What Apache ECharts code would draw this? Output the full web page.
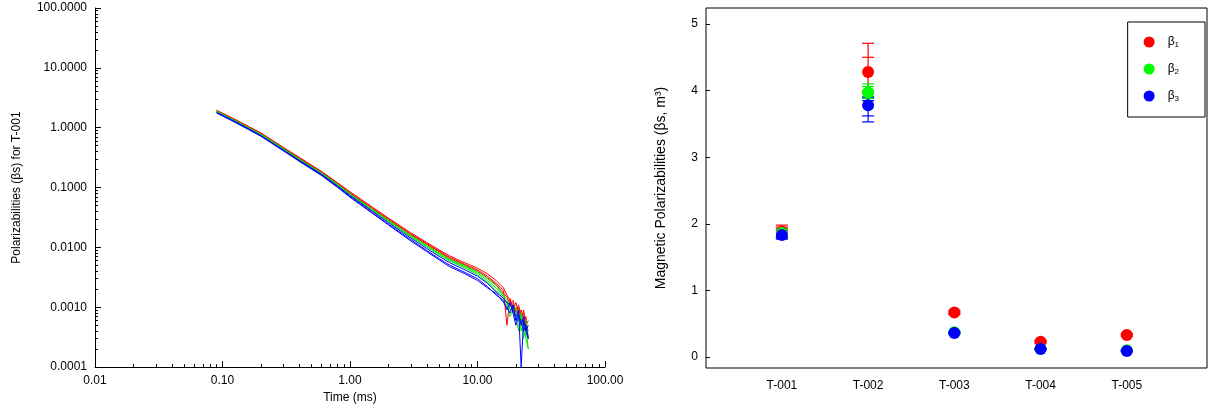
<!DOCTYPE html>
<html><head><meta charset="utf-8">
<script src="https://cdn.jsdelivr.net/npm/echarts@6/dist/echarts.min.js"></script>
<style>html,body{margin:0;padding:0;background:#fff}#c{width:1213px;height:409px}</style>
</head><body><div id="c"></div>
<script>
var times=[0.09,0.12,0.16,0.2,0.3,0.4,0.6,0.8,1,1.5,2,3,4,5,6,8,10,12,14,16,17,18,19,20,21,22,23,24,25];
var red1=[1.95,1.45,1.05,0.82,0.47,0.32,0.185,0.12,0.085,0.047,0.031,0.0175,0.0121,0.0091,0.0073,0.0055,0.0045,0.0036,0.0028,0.0021,0.0016,0.0013,0.0011,0.0009,0.0011,0.0007,0.0008,0.0005,0.0004];
var red2=[1.92,1.42,1.03,0.8,0.46,0.31,0.18,0.117,0.082,0.045,0.03,0.0168,0.0116,0.0087,0.0069,0.0052,0.0042,0.0033,0.0025,0.0019,0.0005,0.0014,0.0009,0.0012,0.0008,0.0009,0.0006,0.0007,0.0003];
var red3=[1.9,1.4,1.02,0.79,0.455,0.305,0.178,0.115,0.08,0.044,0.029,0.0162,0.0112,0.0084,0.0066,0.005,0.004,0.0031,0.0024,0.0017,0.0015,0.0011,0.0013,0.0008,0.001,0.0006,0.0009,0.0005,0.0006];
var green1=[1.88,1.39,1.0,0.78,0.45,0.3,0.175,0.113,0.079,0.043,0.0285,0.0158,0.0108,0.0081,0.0064,0.0049,0.0039,0.003,0.0023,0.0016,0.0013,0.0009,0.0011,0.0007,0.0004,0.0008,0.0005,0.0006,0.0003];
var green2=[1.86,1.37,0.99,0.77,0.44,0.295,0.172,0.111,0.077,0.042,0.0278,0.0154,0.0105,0.0078,0.0062,0.0047,0.0037,0.0028,0.0021,0.0015,0.0011,0.0012,0.0008,0.001,0.0006,0.0007,0.0003,0.0005,0.0002];
var green3=[1.84,1.36,0.98,0.76,0.435,0.29,0.17,0.109,0.076,0.041,0.027,0.015,0.0102,0.0075,0.006,0.0045,0.0035,0.0026,0.0019,0.0014,0.0012,0.0007,0.0009,0.0006,0.0008,0.0004,0.0006,0.0003,0.0002];
var blue1=[1.8,1.33,0.96,0.74,0.425,0.285,0.166,0.106,0.074,0.04,0.026,0.0143,0.0096,0.0071,0.0056,0.0042,0.0033,0.0025,0.0018,0.0014,0.0012,0.0011,0.0009,0.0007,0.0009,0.0001,0.0006,0.0004,0.0003];
var blue2=[1.78,1.31,0.95,0.73,0.42,0.28,0.162,0.103,0.071,0.038,0.0245,0.0134,0.0089,0.0065,0.0051,0.0038,0.003,0.0022,0.0016,0.0013,0.0009,0.0012,0.0008,0.0005,0.0007,0.0006,0.0004,0.0005,0.0003];
var blue3=[1.76,1.29,0.93,0.72,0.41,0.274,0.158,0.1,0.069,0.037,0.0238,0.0128,0.0085,0.0062,0.0048,0.0036,0.0028,0.0021,0.0017,0.0012,0.001,0.0008,0.0011,0.0006,0.0008,0.0005,0.0007,0.0004,0.0005];

var cats=['T-001','T-002','T-003','T-004','T-005'];
var b1=[1.88,4.28,0.67,0.23,0.33], b1lo=[1.78,3.95,0.64,0.21,0.31], b1hi=[1.98,4.71,0.70,0.25,0.35], b1lo2=[1.80,4.00,0.65,0.22,0.32], b1hi2=[1.95,4.50,0.69,0.24,0.34];
var b2=[1.86,3.97,0.37,0.12,0.10], b2lo=[1.79,3.88,0.35,0.11,0.09], b2hi=[1.93,4.10,0.39,0.13,0.11], b2lo2=[1.81,3.91,0.36,0.115,0.095], b2hi2=[1.91,4.06,0.38,0.125,0.105];
var b3=[1.83,3.78,0.36,0.12,0.09], b3lo=[1.77,3.53,0.34,0.11,0.08], b3hi=[1.89,3.90,0.38,0.13,0.10], b3lo2=[1.79,3.62,0.35,0.115,0.085], b3hi2=[1.87,3.85,0.37,0.125,0.095];

var chart=echarts.init(document.getElementById('c'));
function curve(vals,color){return {type:'line',xAxisIndex:0,yAxisIndex:0,showSymbol:false,symbol:'none',lineStyle:{color:color,width:1},data:times.map(function(t,i){return [t,vals[i]];}),silent:true};}
function errSeries(vals,lo,hi,lo2,hi2,color){
  return {type:'custom',xAxisIndex:1,yAxisIndex:1,silent:true,z:3,
    data:vals.map(function(v,i){return [i+1,lo[i],hi[i],lo2[i],hi2[i]];}),
    renderItem:function(p,api){
      var x=api.value(0),a=api.coord([x,api.value(1)]),b=api.coord([x,api.value(2)]),c=api.coord([x,api.value(3)]),d=api.coord([x,api.value(4)]);
      var w=6,st={stroke:color,lineWidth:1.2};
      return {type:'group',children:[
        {type:'line',shape:{x1:a[0],y1:a[1],x2:b[0],y2:b[1]},style:st},
        {type:'line',shape:{x1:a[0]-w,y1:a[1],x2:a[0]+w,y2:a[1]},style:st},
        {type:'line',shape:{x1:b[0]-w,y1:b[1],x2:b[0]+w,y2:b[1]},style:st},
        {type:'line',shape:{x1:c[0]-w,y1:c[1],x2:c[0]+w,y2:c[1]},style:st},
        {type:'line',shape:{x1:d[0]-w,y1:d[1],x2:d[0]+w,y2:d[1]},style:st}]};
    }};
}
function pts(name,vals,color){return {type:'scatter',name:name,xAxisIndex:1,yAxisIndex:1,symbolSize:12,z:5,itemStyle:{color:color,opacity:1},data:vals.map(function(v,i){return [i+1,v];})};}
var font='Arial, Liberation Sans, sans-serif';
var ax={color:'#000',fontFamily:font,fontSize:12};
chart.setOption({
  animation:false,
  textStyle:{fontFamily:font},
  grid:[{left:95,top:8,width:510,height:360},{left:706,top:8,width:501,height:360,show:true,borderColor:'#000',borderWidth:1}],
  legend:{orient:'vertical',right:8,top:22,itemGap:14,padding:[14,26,14,16],borderColor:'#000',borderWidth:1,icon:'circle',itemWidth:11,itemHeight:11,
    data:['b1','b2','b3'],formatter:function(n){return '{b|β}{s|'+n.slice(1)+'}';},
    textStyle:{rich:{b:{fontSize:12,color:'#000',fontFamily:font,padding:[0,0,0,8]},s:{fontSize:8,color:'#000',verticalAlign:'bottom',padding:[6,0,0,0],fontFamily:font}}}},
  xAxis:[
    {type:'log',gridIndex:0,min:0.01,max:100,logBase:10,name:'Time (ms)',nameLocation:'middle',nameGap:22,nameTextStyle:ax,
     axisLine:{lineStyle:{color:'#000'}},axisTick:{inside:true,length:6,lineStyle:{color:'#000'}},minorTick:{show:true,splitNumber:9,length:3,lineStyle:{color:'#000'}},
     splitLine:{show:false},axisLabel:Object.assign({formatter:function(v){return v.toFixed(2);}},ax)},
    {type:'value',gridIndex:1,min:0.12,max:5.93,axisLine:{show:false},axisTick:{show:false},splitLine:{show:false},
     axisLabel:Object.assign({customValues:[1,2,3,4,5],formatter:function(v){return cats[Math.round(v)-1]||'';},margin:12},ax)}
  ],
  yAxis:[
    {type:'log',gridIndex:0,min:0.0001,max:100,logBase:10,name:'Polarizabilities (βs) for T-001',nameLocation:'middle',nameGap:72,nameTextStyle:ax,
     axisLine:{lineStyle:{color:'#000'}},axisTick:{inside:true,length:6,lineStyle:{color:'#000'}},minorTick:{show:true,splitNumber:9,length:3,lineStyle:{color:'#000'}},
     splitLine:{show:false},axisLabel:Object.assign({formatter:function(v){return v.toFixed(4);}},ax)},
    {type:'value',gridIndex:1,min:-0.165,max:5.24,name:'Magnetic Polarizabilities (βs, m³)',nameLocation:'middle',nameGap:38,nameTextStyle:{color:'#000',fontFamily:font,fontSize:14},
     axisLine:{show:false},axisTick:{show:true,inside:true,length:4,customValues:[0,1,2,3,4,5],lineStyle:{color:'#000'}},splitLine:{show:false},
     axisLabel:Object.assign({customValues:[0,1,2,3,4,5],formatter:function(v){return String(Math.round(v));}},ax)}
  ],
  series:[
    curve(red1,'#ff0000'),curve(red2,'#ff0000'),curve(red3,'#ff0000'),
    curve(green1,'#00ee00'),curve(green2,'#00ee00'),curve(green3,'#00ee00'),
    curve(blue1,'#0000ff'),curve(blue2,'#0000ff'),curve(blue3,'#0000ff'),
    errSeries(b1,b1lo,b1hi,b1lo2,b1hi2,'#ff0000'),errSeries(b2,b2lo,b2hi,b2lo2,b2hi2,'#00ee00'),errSeries(b3,b3lo,b3hi,b3lo2,b3hi2,'#0000ff'),
    pts('b1',b1,'#ff0000'),pts('b2',b2,'#00ff00'),pts('b3',b3,'#0000ff')
  ]
});
</script></body></html>
